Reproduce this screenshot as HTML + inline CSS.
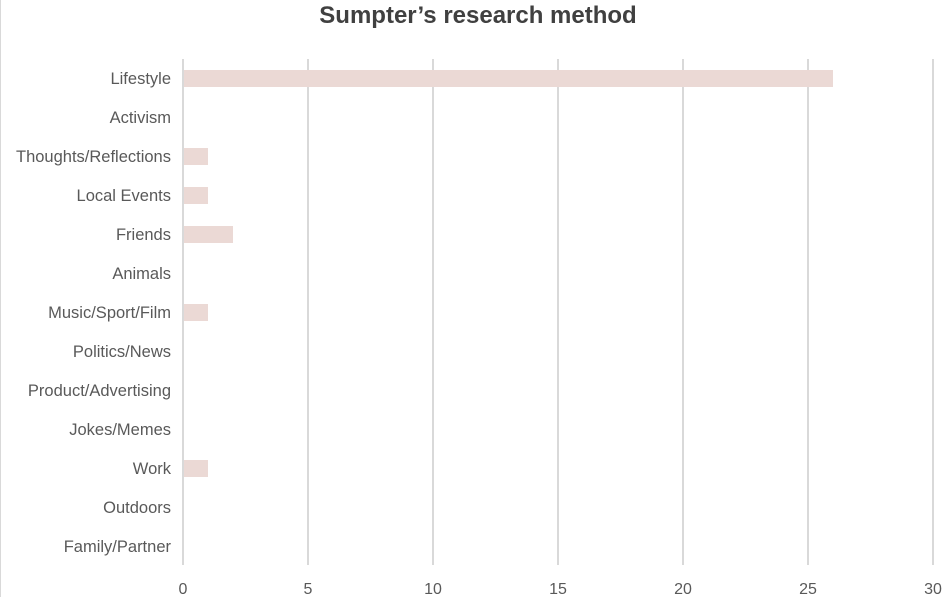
<!DOCTYPE html>
<html><head><style>body{margin:0;background:#fff}</style></head><body>
<svg width="952" height="597" xmlns="http://www.w3.org/2000/svg" font-family="Liberation Sans, sans-serif">
<rect width="952" height="597" fill="#fff"/>
<line x1="0.5" y1="0" x2="0.5" y2="597" stroke="#d9d9d9"/>
<text x="478" y="23" text-anchor="middle" font-size="24" font-weight="bold" fill="#404040">Sumpter’s research method</text>
<g stroke="#d9d9d9" stroke-width="2">
<line x1="183" y1="59" x2="183" y2="565"/><line x1="308" y1="59" x2="308" y2="565"/><line x1="433" y1="59" x2="433" y2="565"/><line x1="558" y1="59" x2="558" y2="565"/><line x1="683" y1="59" x2="683" y2="565"/><line x1="808" y1="59" x2="808" y2="565"/><line x1="933" y1="59" x2="933" y2="565"/>
</g>
<g fill="#ebd9d5">
<rect x="184" y="70" width="649" height="17"/>
<rect x="184" y="148" width="24" height="17"/>
<rect x="184" y="187" width="24" height="17"/>
<rect x="184" y="226" width="49" height="17"/>
<rect x="184" y="304" width="24" height="17"/>
<rect x="184" y="460" width="24" height="17"/>
</g>
<g font-size="16.5" fill="#595959" text-anchor="end">
<text x="171" y="84">Lifestyle</text><text x="171" y="123">Activism</text><text x="171" y="162">Thoughts/Reflections</text><text x="171" y="201">Local Events</text><text x="171" y="240">Friends</text><text x="171" y="279">Animals</text><text x="171" y="318">Music/Sport/Film</text><text x="171" y="357">Politics/News</text><text x="171" y="396">Product/Advertising</text><text x="171" y="435">Jokes/Memes</text><text x="171" y="474">Work</text><text x="171" y="513">Outdoors</text><text x="171" y="552">Family/Partner</text>
</g>
<g font-size="16" fill="#595959" text-anchor="middle">
<text x="183" y="594">0</text><text x="308" y="594">5</text><text x="433" y="594">10</text><text x="558" y="594">15</text><text x="683" y="594">20</text><text x="808" y="594">25</text><text x="933" y="594">30</text>
</g>
</svg>
</body></html>
